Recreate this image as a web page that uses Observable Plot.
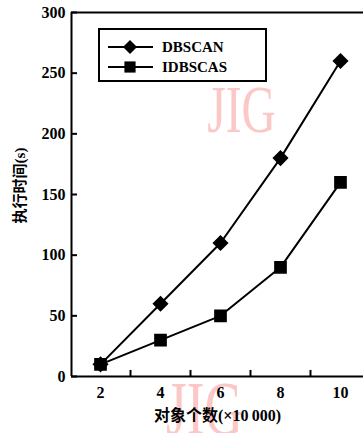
<!DOCTYPE html>
<html>
<head>
<meta charset="utf-8">
<script src="https://cdn.jsdelivr.net/npm/d3@7"></script>
<script src="https://cdn.jsdelivr.net/npm/@observablehq/plot@0.6"></script>
<style>
  html, body { margin: 0; padding: 0; background: #fff; }
  #wrap { position: relative; width: 363px; height: 433px; overflow: hidden; }
  #legend { position: absolute; left: 98px; top: 28px; width: 165px; height: 50px; border: 2px solid #000; background: #fff; }
</style>
</head>
<body>
<div id="wrap"></div>
<script>
// ---- data ----
const objectCounts = [2, 4, 6, 8, 10];          // ×10 000
const dbscanTimes = [10, 60, 110, 180, 260];     // s
const idbscasTimes = [10, 30, 50, 90, 160];      // s
const seriesNames = ["DBSCAN", "IDBSCAS"];
const xTickLabels = [2, 4, 6, 8, 10];
const xMinorTicks = [3, 5, 7, 9];
const yTicks = [0, 50, 100, 150, 200, 250, 300];
const xLabel = "对象个数(×10\u2009000)";
const yLabel = "执行时间(s)";
const watermark = "JIG";

const rows = [];
objectCounts.forEach((x, i) => {
  rows.push({series: seriesNames[0], x, y: dbscanTimes[i]});
  rows.push({series: seriesNames[1], x, y: idbscasTimes[i]});
});

const xMin = 1.033, xMax = 10.767;
const serif = "'Liberation Serif', 'Times New Roman', serif";
const cjk = "'Liberation Serif', 'Noto Sans CJK SC', serif";

const chart = Plot.plot({
  width: 363,
  height: 433,
  marginLeft: 71,
  marginRight: 0,
  marginTop: 12,
  marginBottom: 57,
  style: {background: "#fff", color: "#000"},
  x: {domain: [xMin, xMax], axis: null},
  y: {domain: [0, 300], axis: null},
  marks: [
    // watermarks
    Plot.text([watermark], {frameAnchor: "top-left", dx: 170, dy: 98, fontSize: 68, fontFamily: serif, fill: "#f9b4b4", fillOpacity: 0.75, textAnchor: "middle", lineAnchor: "middle"}),
    Plot.text([watermark], {frameAnchor: "top-left", dx: 133, dy: 397, fontSize: 76, fontFamily: serif, fill: "#f9b4b4", fillOpacity: 0.75, textAnchor: "middle", lineAnchor: "middle"}),
    // frame lines
    Plot.ruleY([0, 300], {stroke: "#000", strokeWidth: 2}),
    Plot.ruleX([xMin], {stroke: "#000", strokeWidth: 2}),
    // inward ticks
    Plot.ruleY(yTicks, {x1: xMin, x2: xMin + 0.2, stroke: "#000", strokeWidth: 2}),
    Plot.ruleX(xMinorTicks, {y1: 0, y2: 5, stroke: "#000", strokeWidth: 2}),
    // tick labels
    Plot.text(yTicks, {y: d => d, frameAnchor: "left", dx: -6, textAnchor: "end", fontSize: 16, fontWeight: "bold", fontFamily: serif, fill: "#000"}),
    Plot.text(xTickLabels, {x: d => d, frameAnchor: "bottom", dy: 21, fontSize: 16, fontWeight: "bold", fontFamily: serif, fill: "#000"}),
    // axis titles
    Plot.text([yLabel], {frameAnchor: "left", dx: -51, dy: -9, rotate: -90, textAnchor: "middle", fontSize: 15, fontWeight: "bold", fontFamily: cjk, fill: "#000"}),
    Plot.text([xLabel], {frameAnchor: "bottom", dy: 44, textAnchor: "middle", fontSize: 16, fontWeight: "bold", fontFamily: cjk, fill: "#000"}),
    // series
    Plot.line(rows, {x: "x", y: "y", z: "series", stroke: "#000", strokeWidth: 2}),
    Plot.dot(rows.filter(d => d.series === seriesNames[0]), {x: "x", y: "y", symbol: "diamond2", r: 6.3, fill: "#000", stroke: "#000"}),
    Plot.dot(rows.filter(d => d.series === seriesNames[1]), {x: "x", y: "y", symbol: "square", r: 6.3, fill: "#000", stroke: "#000"})
  ]
});

const wrap = document.getElementById("wrap");
wrap.appendChild(chart);

// narrow the watermark lettering (condensed look)
chart.querySelectorAll("text").forEach(t => {
  if (t.textContent === watermark) {
    const b = t.getBBox();
    const cx = b.x + b.width / 2;
    const prev = t.getAttribute("transform") || "";
    const k = t.getAttribute("font-size") === "76" ? 0.62 : 0.7;
    t.setAttribute("transform", `${prev} translate(${cx},0) scale(${k},1) translate(${-cx},0)`);
  }
});

// legend
const legend = document.createElement("div");
legend.id = "legend";
const ns = "http://www.w3.org/2000/svg";
const lsvg = document.createElementNS(ns, "svg");
lsvg.setAttribute("width", 165);
lsvg.setAttribute("height", 50);
const entries = [
  {name: seriesNames[0], symbol: d3.symbolDiamond2, size: 125},
  {name: seriesNames[1], symbol: d3.symbolSquare, size: 125}
];
entries.forEach((e, i) => {
  const cy = 17 + i * 20;
  const line = document.createElementNS(ns, "line");
  line.setAttribute("x1", 8); line.setAttribute("x2", 53);
  line.setAttribute("y1", cy); line.setAttribute("y2", cy);
  line.setAttribute("stroke", "#000"); line.setAttribute("stroke-width", 2);
  lsvg.appendChild(line);
  const p = document.createElementNS(ns, "path");
  p.setAttribute("d", d3.symbol(e.symbol, e.size)());
  p.setAttribute("transform", `translate(30,${cy})`);
  p.setAttribute("fill", "#000");
  lsvg.appendChild(p);
  const t = document.createElementNS(ns, "text");
  t.setAttribute("x", 62); t.setAttribute("y", cy);
  t.setAttribute("dy", "0.35em");
  t.setAttribute("font-family", serif);
  t.setAttribute("font-size", 15);
  t.setAttribute("font-weight", "bold");
  t.textContent = e.name;
  lsvg.appendChild(t);
});
legend.appendChild(lsvg);
wrap.appendChild(legend);
</script>
</body>
</html>
